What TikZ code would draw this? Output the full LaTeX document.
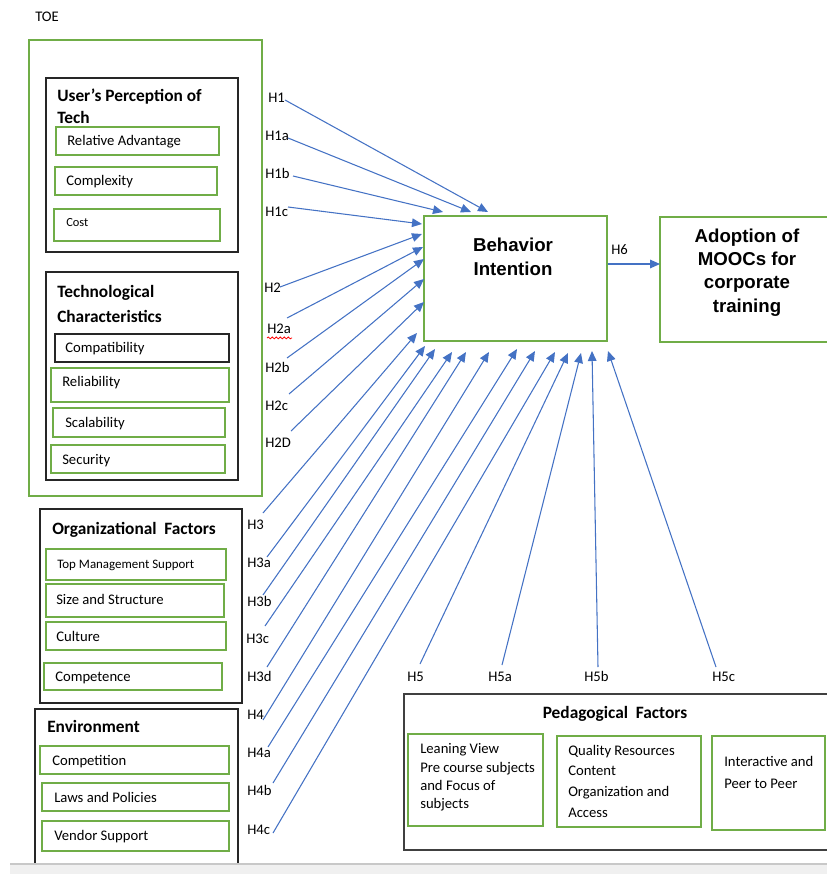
\documentclass[tikz,border=0pt]{standalone}
\usepackage{fontspec}
\setmainfont{Carlito}
\newfontfamily\arialfont{Liberation Sans}
\usetikzlibrary{arrows.meta,fit,decorations.pathmorphing}
\definecolor{grn}{HTML}{70AD47}
\definecolor{arw}{HTML}{4472C4}
\definecolor{frame}{HTML}{262626}
\definecolor{pedframe}{HTML}{404040}
\definecolor{stripfill}{HTML}{F0F0F0}
\definecolor{stripline}{HTML}{C8C8C8}
\begin{document}
\begin{tikzpicture}[x=0.75pt,y=-0.75pt,
  gbox/.style={draw=grn,line width=1pt,inner sep=0pt,fit={#1}},
  kbox/.style={draw=frame,line width=1.1pt,inner sep=0pt,fit={#1}},
  tx/.style={anchor=west,inner sep=0pt,text height=7pt,text depth=0pt,
    font=\fontsize{11}{13}\selectfont},
  sm/.style={tx,font=\fontsize{9.3}{11}\selectfont,text height=6pt},
  hd/.style={anchor=west,inner sep=0pt,text height=8.4pt,text depth=0pt,
    font=\bfseries\fontsize{13}{15}\selectfont},
  big/.style={anchor=center,inner sep=0pt,text height=10pt,text depth=0pt,
    font=\arialfont\bfseries\fontsize{14}{17}\selectfont},
  hyp/.style={draw=arw,line width=0.8pt,-{Triangle[length=7.5pt,width=6.5pt]}}]

\useasboundingbox (0,0) rectangle (827,874);

% ---------- TOE frame ----------
\node[tx] (toe) at (35,17) {TOE};
\node[gbox={(29,40) (262,496)}] (toebox) {};

% User's perception of technology
\node[kbox={(46,78) (238,252)}] (upt) {};
\node[hd] (upth1) at (57,96) {User’s Perception of};
\node[hd] (upth2) at (57,118) {Tech};
\node[gbox={(56,127) (219,155)}] (rabox) {};
\node[tx] (ra) at (67,141) {Relative Advantage};
\node[gbox={(55,167) (217,195)}] (cxbox) {};
\node[tx] (cx) at (66,181) {Complexity};
\node[gbox={(54,209) (220,241)}] (cobox) {};
\node[sm] (co) at (66,222) {Cost};

% Technological characteristics
\node[kbox={(46,272) (238,480)}] (tch) {};
\node[hd] (tchh1) at (57,292) {Technological};
\node[hd] (tchh2) at (57,317) {Characteristics};
\node[kbox={(55,334) (229,362)}] (cpbox) {};
\node[tx] (cp) at (65,348) {Compatibility};
\node[gbox={(51,368) (229,402)}] (rlbox) {};
\node[tx] (rl) at (62,382) {Reliability};
\node[gbox={(53,408) (225,437)}] (scbox) {};
\node[tx] (sc) at (65,423) {Scalability};
\node[gbox={(51,445) (225,473)}] (sebox) {};
\node[tx] (se) at (62,460) {Security};

% ---------- Organizational factors ----------
\node[kbox={(40,509) (242,703)}] (org) {};
\node[hd] (orgh) at (52,529) {Organizational\hspace{0.45em}Factors};
\node[gbox={(46,549) (226,580)}] (tmbox) {};
\node[sm,font=\fontsize{9.7}{11}\selectfont] (tm) at (57,564) {Top Management Support};
\node[gbox={(46,584) (224,617)}] (ssbox) {};
\node[tx] (ss) at (56,600) {Size and Structure};
\node[gbox={(46,622) (226,650)}] (cubox) {};
\node[tx] (cu) at (56,637) {Culture};
\node[gbox={(44,663) (222,690)}] (cebox) {};
\node[tx] (ce) at (55,677) {Competence};

% ---------- Environment ----------
\draw[frame,line width=1.1pt] (35,870) |- (238,709) -- (238,870);
\node[hd] (envh) at (47,727) {Environment};
\node[gbox={(40,746) (229,774)}] (cmbox) {};
\node[tx] (cm) at (52,761) {Competition};
\node[gbox={(42,783) (229,811)}] (lpbox) {};
\node[tx] (lp) at (54,798) {Laws and Policies};
\node[gbox={(42,821) (229,851)}] (vsbox) {};
\node[tx] (vs) at (54,836) {Vendor Support};

% ---------- Pedagogical factors ----------
\draw[pedframe,line width=1.1pt] (840,850) -- (404,850) -- (404,694) -- (840,694);
\node[hd,anchor=center] (pedh) at (615,713) {Pedagogical\hspace{0.45em}Factors};
\node[gbox={(408,734) (543,826)}] (lvbox) {};
\node[tx] (lv1) at (420,749) {Leaning View};
\node[tx] (lv2) at (420,768) {Pre course subjects};
\node[tx] (lv3) at (420,786) {and Focus of};
\node[tx] (lv4) at (420,804) {subjects};
\node[gbox={(557,736) (701,827)}] (qrbox) {};
\node[tx] (qr1) at (568,751) {Quality Resources};
\node[tx] (qr2) at (568,771) {Content};
\node[tx] (qr3) at (568,792) {Organization and};
\node[tx] (qr4) at (568,813) {Access};
\node[gbox={(712,736) (825,830)}] (ipbox) {};
\node[tx] (ip1) at (724,762) {Interactive and};
\node[tx] (ip2) at (724,784) {Peer to Peer};

% ---------- Central constructs ----------
\node[gbox={(424,216) (607,341)}] (bi) {};
\node[big] (bi1) at (513,245) {Behavior};
\node[big] (bi2) at (513,269) {Intention};
\draw[grn,line width=1pt] (840,217) -| (660,342) -- (840,342);
\node[big] (ad1) at (747,236) {Adoption of};
\node[big] (ad2) at (747,259) {MOOCs for};
\node[big] (ad3) at (747,282) {corporate};
\node[big] (ad4) at (747,306) {training};
\coordinate (adin) at (660,264);

% ---------- Hypothesis labels ----------
\node[tx] (lh1)  at (268,98)  {H1};
\node[tx] (lh1a) at (265,136) {H1a};
\node[tx] (lh1b) at (265,174) {H1b};
\node[tx] (lh1c) at (265,212) {H1c};
\node[tx] (lh2)  at (264,288) {H2};
\node[tx] (lh2a) at (267,329) {H2a};
\node[tx] (lh2b) at (265,368) {H2b};
\node[tx] (lh2c) at (265,406) {H2c};
\node[tx] (lh2d) at (265,443) {H2D};
\node[tx] (lh3)  at (247,525) {H3};
\node[tx] (lh3a) at (247,563) {H3a};
\node[tx] (lh3b) at (247,602) {H3b};
\node[tx] (lh3c) at (246,639) {H3c};
\node[tx] (lh3d) at (247,677) {H3d};
\node[tx] (lh4)  at (247,715) {H4};
\node[tx] (lh4a) at (247,753) {H4a};
\node[tx] (lh4b) at (247,791) {H4b};
\node[tx] (lh4c) at (247,830) {H4c};
\node[tx] (lh5)  at (407,677) {H5};
\node[tx] (lh5a) at (488,677) {H5a};
\node[tx] (lh5b) at (584,677) {H5b};
\node[tx] (lh5c) at (712,677) {H5c};
\node[tx] (lh6)  at (611,250) {H6};
% spell-check squiggle under H2a
\draw[red,line width=0.6pt,decorate,
  decoration={snake,amplitude=0.7pt,segment length=3pt}]
  (lh2a.south west) ++(0,4) -- ++(25,0);

% ---------- Hypothesis path end points ----------
\coordinate (s1)  at (285,100); \coordinate (t1)  at (488,212);
\coordinate (s1a) at (288,138); \coordinate (t1a) at (471,212);
\coordinate (s1b) at (293,176); \coordinate (t1b) at (443,212);
\coordinate (s1c) at (288,207); \coordinate (t1c) at (422,224);
\coordinate (s2)  at (280,287); \coordinate (t2)  at (422,234);
\coordinate (s2a) at (287,318); \coordinate (t2a) at (423,247);
\coordinate (s2b) at (287,358); \coordinate (t2b) at (424,259);
\coordinate (s2c) at (289,394); \coordinate (t2c) at (424,279);
\coordinate (s2d) at (291,431); \coordinate (t2d) at (424,302);
\coordinate (s3)  at (263,513); \coordinate (t3)  at (417,333);
\coordinate (s3a) at (267,557); \coordinate (t3a) at (425,346);
\coordinate (s3b) at (263,595); \coordinate (t3b) at (435,349);
\coordinate (s3c) at (265,626); \coordinate (t3c) at (452,352);
\coordinate (s3d) at (267,667); \coordinate (t3d) at (466,352);
\coordinate (s4)  at (263,720); \coordinate (t4)  at (489,352);
\coordinate (s4a) at (268,747); \coordinate (t4a) at (517,349);
\coordinate (s4b) at (273,783); \coordinate (t4b) at (535,351);
\coordinate (s4c) at (273,833); \coordinate (t4c) at (555,352);
\coordinate (s5)  at (420,664); \coordinate (t5)  at (568,353);
\coordinate (s5a) at (502,665); \coordinate (t5a) at (581,353);
\coordinate (s5b) at (598,667); \coordinate (t5b) at (592,351);
\coordinate (s5c) at (716,667); \coordinate (t5c) at (608,351);

\foreach \h in {1,1a,1b,1c,2,2a,2b,2c,2d,3,3a,3b,3c,3d,4,4a,4b,4c,5,5a,5b,5c}
  \draw[hyp] (s\h) -- (t\h);
\draw[hyp] (bi.east |- adin) -- (adin);

% ---------- window status strip ----------
\fill[stripfill] (10,864) rectangle (827,874);
\draw[stripline,line width=0.8pt] (10,864) -- (827,864);
\end{tikzpicture}
\end{document}
